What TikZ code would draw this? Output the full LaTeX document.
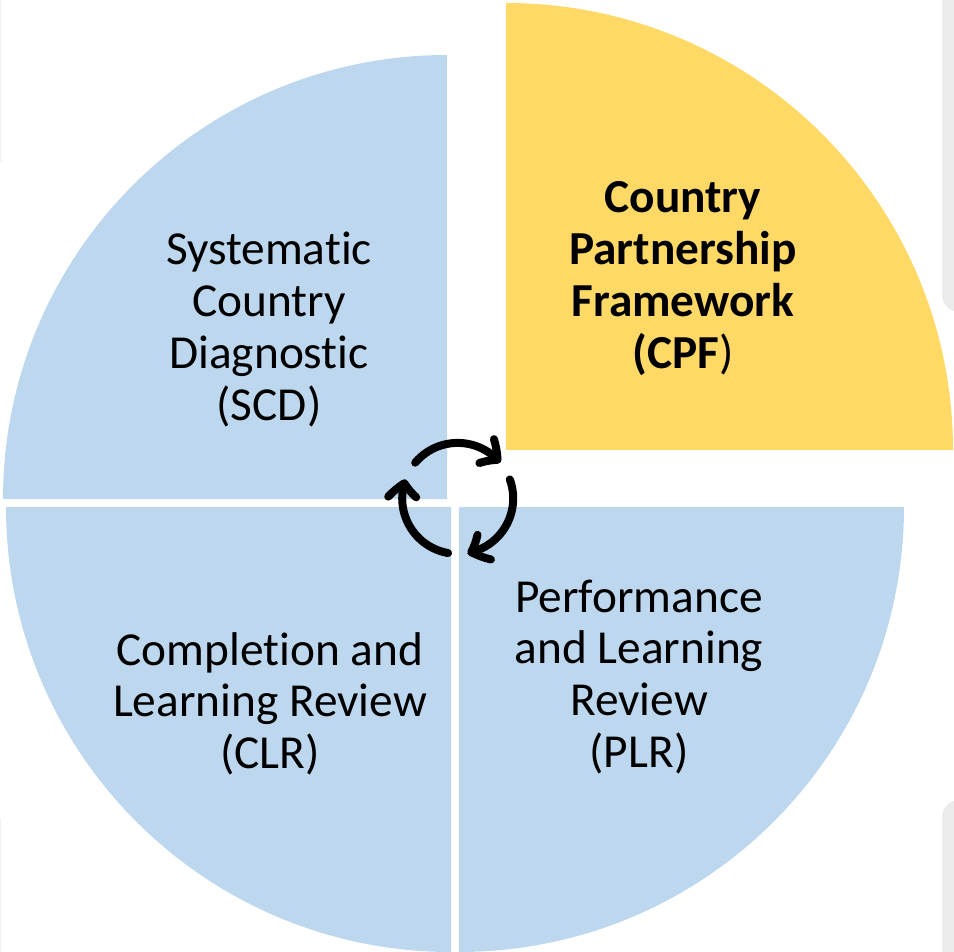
\documentclass[tikz,border=0pt]{standalone}
\usepackage{fontspec}
\setmainfont{Carlito}[Ligatures={NoCommon}]
\usetikzlibrary{arrows.meta,bending}

\definecolor{sectorblue}{HTML}{BDD7EE}
\definecolor{sectorgold}{HTML}{FFD966}
\definecolor{edgegray}{HTML}{EBEBEB}

% stacked, centred label whose baseline is the first line's baseline
\newcommand{\stacklabel}[1]{\begin{tabular}[t]{@{}c@{}}#1\end{tabular}}

\tikzset{
  label text/.style={inner sep=0pt, anchor=base,
    font=\fontsize{35.5}{38.8}\selectfont},
  cycle arc/.style={line width=6pt, line cap=round,
    -{Straight Barb[length=10.5pt,width=21pt,round,bend]}},
}

\begin{document}
\begin{tikzpicture}[x=0.75pt,y=-0.75pt]
  \useasboundingbox (0,0) rectangle (954,952);
  \clip (0,0) rectangle (954,952);

  % neighbouring panels peeking in at the edges
  \fill[edgegray, rounded corners=13] (942,-30) rectangle (980,312);
  \fill[edgegray, rounded corners=13] (942,800) rectangle (980,990);
  \fill[edgegray!70] (0,0) rectangle (1.5,162);
  \fill[edgegray!70] (0,818) rectangle (1.5,952);

  % four quarter sectors
  \fill[sectorblue] (447,499) -- (3,499) arc[start angle=180, end angle=270, radius=444] -- cycle;
  \fill[sectorgold] (506,450) -- (506,3) arc[start angle=270, end angle=360, radius=447] -- cycle;
  \fill[sectorblue] (451,507) -- (6,507) arc[start angle=180, end angle=90, radius=445] -- cycle;
  \fill[sectorblue] (459,507) -- (904,507) arc[start angle=0, end angle=90, radius=445] -- cycle;

  % labels
  \node[label text] (scd) at (269,265)
    {\stacklabel{Systematic\\Country\\Diagnostic\\(SCD)}};
  \node[label text] (cpf) at (683,213)
    {\stacklabel{\textbf{Country}\\\textbf{Partnership}\\\textbf{Framework}\\\textbf{(CPF})}};
  \node[label text] (clr) at (270,665)
    {\stacklabel{Completion and\\Learning Review\\(CLR)}};
  \node[label text] (plr) at (639,612)
    {\stacklabel{Performance\\and Learning\\Review\\(PLR)}};

  % cycle symbol in the middle
  \coordinate (hub) at (457.7,498.4);
  \draw[cycle arc] ([shift={(-140:55.5)}]hub) arc[start angle=-140, end angle=-40, radius=55.5];
  \draw[cycle arc] ([shift={(-20:55.5)}]hub) arc[start angle=-20, end angle=80, radius=55.5];
  \draw[cycle arc] ([shift={(100:55.5)}]hub) arc[start angle=100, end angle=200, radius=55.5];
\end{tikzpicture}
\end{document}
